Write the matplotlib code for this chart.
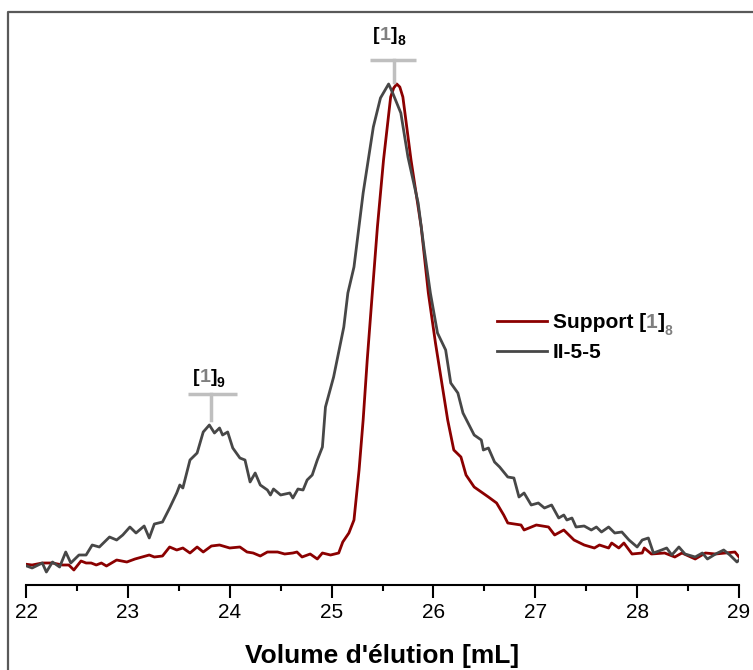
import matplotlib.pyplot as plt
from matplotlib.lines import Line2D

# chromatogramme normalisé (pic principal = 1)
x_support = [21.98, 22.06, 22.16, 22.26, 22.36, 22.42, 22.47, 22.54, 22.59, 22.64,
             22.69, 22.74, 22.79, 22.89, 22.99, 23.07, 23.14, 23.21, 23.26, 23.34,
             23.41, 23.48, 23.54, 23.61, 23.68, 23.74, 23.82, 23.90, 24.00, 24.10,
             24.17, 24.23, 24.30, 24.37, 24.47, 24.54, 24.62, 24.66, 24.71, 24.79,
             24.86, 24.91, 24.99, 25.07, 25.11, 25.17, 25.22, 25.27, 25.31, 25.35,
             25.40, 25.45, 25.51, 25.58, 25.61, 25.64, 25.67, 25.70, 25.78, 25.88,
             25.95, 26.02, 26.14, 26.20, 26.27, 26.32, 26.40, 26.54, 26.62, 26.69,
             26.73, 26.86, 26.89, 27.01, 27.13, 27.19, 27.28, 27.38, 27.48, 27.58,
             27.63, 27.72, 27.75, 27.82, 27.87, 27.95, 28.05, 28.07, 28.14, 28.27,
             28.37, 28.44, 28.57, 28.67, 28.77, 28.96, 29.00]
y_support = [0.042, 0.040, 0.044, 0.044, 0.040, 0.040, 0.030, 0.048, 0.044, 0.044,
             0.040, 0.044, 0.038, 0.050, 0.046, 0.052, 0.056, 0.060, 0.056, 0.058,
             0.076, 0.070, 0.074, 0.064, 0.076, 0.066, 0.078, 0.080, 0.074, 0.076,
             0.066, 0.064, 0.058, 0.066, 0.066, 0.062, 0.064, 0.066, 0.056, 0.062,
             0.052, 0.064, 0.060, 0.064, 0.086, 0.104, 0.130, 0.230, 0.330, 0.450,
             0.584, 0.716, 0.850, 0.976, 0.994, 1.002, 0.996, 0.976, 0.850, 0.716,
             0.584, 0.484, 0.330, 0.270, 0.256, 0.220, 0.196, 0.176, 0.164, 0.140,
             0.124, 0.120, 0.110, 0.120, 0.116, 0.100, 0.110, 0.090, 0.080, 0.074,
             0.080, 0.074, 0.084, 0.074, 0.084, 0.062, 0.064, 0.074, 0.062, 0.064,
             0.056, 0.064, 0.052, 0.064, 0.062, 0.066, 0.056]

x_ii = [21.98, 22.06, 22.16, 22.20, 22.26, 22.33, 22.39, 22.44, 22.52, 22.59,
        22.65, 22.72, 22.82, 22.89, 22.95, 23.02, 23.08, 23.16, 23.21, 23.26,
        23.34, 23.41, 23.48, 23.51, 23.54, 23.61, 23.68, 23.74, 23.80, 23.85,
        23.90, 23.93, 23.98, 24.03, 24.10, 24.15, 24.20, 24.25, 24.30, 24.37,
        24.40, 24.43, 24.50, 24.59, 24.62, 24.67, 24.72, 24.76, 24.81, 24.86,
        24.91, 24.94, 25.02, 25.12, 25.16, 25.22, 25.31, 25.41, 25.48, 25.56,
        25.60, 25.68, 25.75, 25.85, 25.91, 25.97, 26.04, 26.12, 26.17, 26.24,
        26.29, 26.35, 26.40, 26.47, 26.49, 26.54, 26.60, 26.65, 26.73, 26.79,
        26.84, 26.89, 26.96, 27.03, 27.09, 27.16, 27.23, 27.28, 27.31, 27.36,
        27.40, 27.48, 27.55, 27.60, 27.65, 27.72, 27.78, 27.85, 27.92, 28.00,
        28.05, 28.11, 28.16, 28.24, 28.29, 28.34, 28.41, 28.47, 28.57, 28.64,
        28.69, 28.77, 28.85, 28.91, 28.98, 29.00]
y_ii = [0.040, 0.034, 0.044, 0.026, 0.046, 0.036, 0.066, 0.044, 0.060, 0.060,
        0.080, 0.076, 0.096, 0.090, 0.100, 0.116, 0.104, 0.118, 0.094, 0.122,
        0.126, 0.154, 0.184, 0.200, 0.194, 0.250, 0.264, 0.306, 0.320, 0.304,
        0.314, 0.300, 0.306, 0.274, 0.254, 0.250, 0.206, 0.224, 0.200, 0.190,
        0.180, 0.192, 0.180, 0.184, 0.174, 0.192, 0.190, 0.210, 0.220, 0.250,
        0.276, 0.356, 0.416, 0.516, 0.584, 0.636, 0.784, 0.916, 0.974, 1.002,
        0.984, 0.944, 0.856, 0.764, 0.670, 0.584, 0.504, 0.470, 0.404, 0.384,
        0.344, 0.320, 0.300, 0.290, 0.270, 0.274, 0.246, 0.236, 0.216, 0.214,
        0.176, 0.184, 0.160, 0.164, 0.154, 0.160, 0.134, 0.140, 0.130, 0.134,
        0.116, 0.118, 0.110, 0.116, 0.106, 0.116, 0.104, 0.106, 0.090, 0.076,
        0.090, 0.094, 0.064, 0.070, 0.074, 0.060, 0.076, 0.062, 0.056, 0.064,
        0.052, 0.062, 0.070, 0.060, 0.046, 0.050]

xticks = [22, 23, 24, 25, 26, 27, 28, 29]

RED = '#8b0000'
DARK = '#474747'
LIGHT = '#bfbfbf'
GREY1 = '#7f7f7f'


def rich(ax, x, y, parts, family, weight='bold', first=None):
    # enchaîne plusieurs morceaux de texte (couleur / taille / décalage)
    prev = first
    if prev is None:
        s, c, fs, dy = parts[0]
        prev = ax.text(x, y, s, color=c, fontsize=fs, ha='left', va='bottom',
                       family=family, weight=weight)
        parts = parts[1:]
    for s, c, fs, dy in parts:
        prev = ax.annotate(s, xy=(1, 0), xycoords=prev, xytext=(0, dy),
                           textcoords='offset points', ha='left', va='bottom',
                           color=c, fontsize=fs, family=family, weight=weight,
                           zorder=10)
    return prev


fig = plt.figure(figsize=(7.53, 6.70), dpi=100)
ax = fig.add_axes([26 / 753, 85 / 670, 713 / 753, 573 / 670])

ax.plot(x_support, y_support, color=RED, lw=2.0, label='Support [')
ax.plot(x_ii, y_ii, color=DARK, lw=2.0, label='II-5-5')

ax.set_xlim(22, 29)
ax.set_ylim(0, 1.146)
ax.set_xticks(xticks)
ax.set_xticks([v + 0.5 for v in xticks[:-1]], minor=True)
ax.set_yticks([])
for s in ['left', 'right', 'top']:
    ax.spines[s].set_visible(False)
ax.spines['bottom'].set_linewidth(1.5)
ax.tick_params(axis='x', which='major', length=9, width=1.5, direction='out', pad=4,
               labelsize=15)
ax.tick_params(axis='x', which='minor', length=4.5, width=1.5, direction='out')
for lab in ax.get_xticklabels():
    lab.set_family('Liberation Sans')
ax.set_xlabel("Volume d'élution [mL]", fontsize=19, weight='bold',
              family='Liberation Sans', labelpad=16)

# marqueurs des pics
ax.plot([25.38, 25.83], [1.05, 1.05], color=LIGHT, lw=2.5, solid_capstyle='butt')
ax.plot([25.61, 25.61], [1.05, 1.006], color=LIGHT, lw=2.5)
ax.plot([23.59, 24.07], [0.382, 0.382], color=LIGHT, lw=2.5, solid_capstyle='butt')
ax.plot([23.82, 23.82], [0.382, 0.33], color=LIGHT, lw=2.5)

rich(ax, 25.41, 1.082, [('[', 'black', 14, 0), ('1', GREY1, 14, 0),
                        (']', 'black', 14, 0), ('8', 'black', 10, -3)], 'Liberation Sans')
rich(ax, 23.64, 0.398, [('[', 'black', 14, 0), ('1', GREY1, 14, 0),
                        (']', 'black', 14, 0), ('9', 'black', 10, -3)], 'Liberation Sans')

leg = ax.legend(loc='upper left', bbox_to_anchor=(0.661, 0.474), frameon=False,
                borderpad=0, borderaxespad=0, handlelength=2.4, handletextpad=0.25,
                labelspacing=0.5,
                prop={'family': 'Liberation Sans', 'weight': 'bold', 'size': 15})
t0 = leg.get_texts()[0]
rich(ax, 0, 0, [('1', GREY1, 15, 0), (']', 'black', 15, 0), ('8', GREY1, 10, -4)],
     'Liberation Sans', first=t0)

# cadre
fig.add_artist(Line2D([8 / 753, 8 / 753, 1], [0, 1 - 12 / 670, 1 - 12 / 670],
                      transform=fig.transFigure, color='#595959', lw=1.6))

fig.savefig('out.png', dpi=100)
